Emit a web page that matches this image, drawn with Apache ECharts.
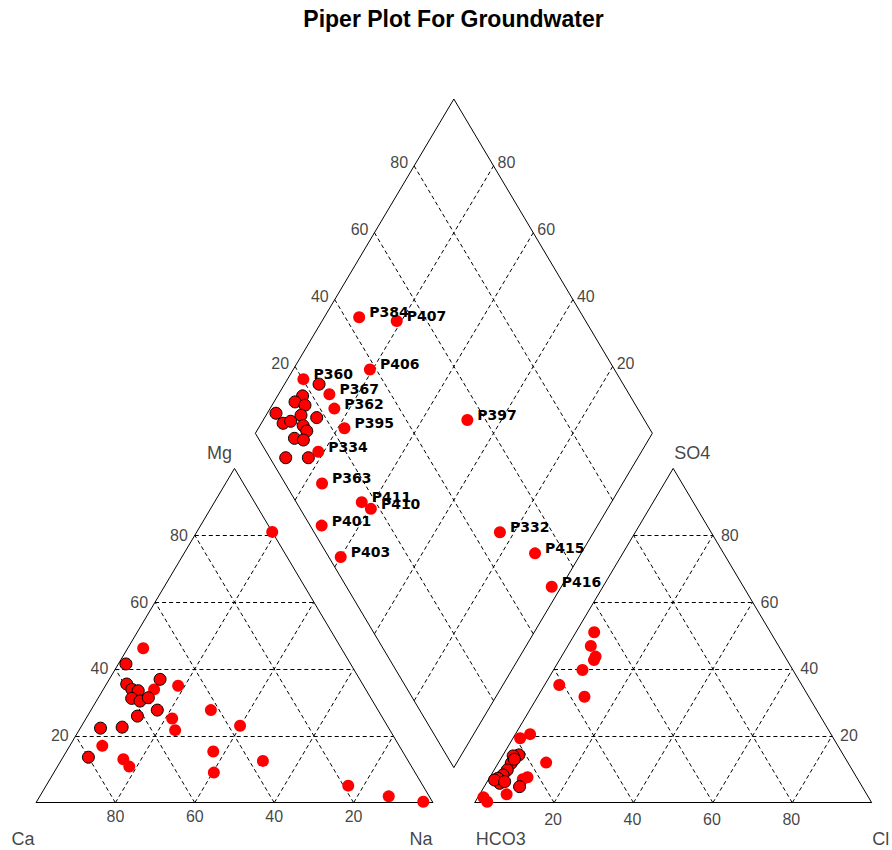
<!DOCTYPE html>
<html><head><meta charset="utf-8">
<script src="https://cdn.jsdelivr.net/npm/echarts@6/dist/echarts.min.js"></script>
<style>html,body{margin:0;padding:0;background:#fff}#c{width:892px;height:850px}</style>
</head><body><div id="c"></div>
<script>
// ---------------- DATA ----------------
const chartTitle = 'Piper Plot For Groundwater';
const cationCorners = ['Ca', 'Mg', 'Na'];
const anionCorners = ['HCO3', 'SO4', 'Cl'];
const tickValues = [20, 40, 60, 80];

// cation triangle samples: [Mg %, Na %]  (Ca = 100 - Mg - Na)
const cationOutlined = [
  [41.5,1.9],[35.5,5.1],[33.9,7.2],[33.5,9.0],[31.2,8.5],[30.4,11.0],[31.4,12.6],
  [36.9,12.8],[27.7,16.7],[25.9,12.6],[22.3,5.1],[22.6,10.4],[13.6,6.4]
];
const cationPlain = [
  [46.2,3.9],[33.9,12.8],[35.0,18.3],[27.7,30.2],[25.2,21.7],[21.7,24.2],[23.0,39.9],
  [17.0,8.2],[13.0,15.5],[10.8,18.1],[15.3,37.0],[9.0,40.3],[12.5,50.9],[5.1,76.1],
  [1.9,87.9],[0.3,97.4],[81.0,19.0]
];

// anion triangle samples: [SO4 %, Cl %]  (HCO3 = 100 - SO4 - Cl)
const anionOutlined = [
  [14.3,4.0],[14.0,2.7],[11.8,3.3],[9.8,3.3],[8.3,3.0],[7.3,2.2],[5.8,3.4],
  [6.8,1.6],[6.3,4.4],[4.8,8.9],[13.0,3.5]
];
const anionPlain = [
  [51.0,4.6],[46.9,5.8],[43.7,8.6],[42.7,8.7],[39.7,7.3],[35.2,3.7],[31.7,11.8],
  [20.5,3.7],[19.3,1.8],[12.0,12.0],[7.6,9.5],[7.0,8.6],[2.5,6.8],[1.6,1.4],[0.3,3.0]
];

// diamond samples: [Na %, HCO3 %]
const diamondNames = ['P384','P407','P406','P360','P367','P362','P395','P397','P334',
  'P363','P411','P410','P401','P403','P332','P415','P416'];
const diamondPlain = [
  [8.8,56.5],[18.8,47.6],[19.3,61.6],[4.0,79.8],[12.8,75.5],[16.2,76.4],[21.7,76.8],
  [51.4,44.6],[18.6,86.9],[24.3,90.7],[37.1,83.5],[40.4,82.2],[30.5,97.1],[40.0,97.0],
  [76.4,53.2],[88.4,47.5],[97.6,48.3]
];
const diamondOutlined = [
  [8.7,76.6],[6.3,82.5],[5.3,85.3],[8.3,83.3],[2.2,91.8],[8.8,85.8],[13.1,82.2],
  [5.5,91.5],[7.1,89.3],[10.9,86.8],[12.6,86.7],[10.6,90.9],[13.1,88.9],[11.3,96.0],[17.0,90.3]
];

// ---------------- GEOMETRY (ternary -> cartesian data coords) ----------------
const GAP = 10.5;
const S3 = Math.sqrt(3) / 2;
function cat(mg, na) { return [na + mg / 2, mg * S3]; }
function an(so4, cl) { return [100 + GAP + cl + so4 / 2, so4 * S3]; }
function dia(na, hco3) { const t = 200 + GAP - hco3 - na; return [na + t / 2, t * S3]; }

const gridSegs = [];
const outlineSegs = [];
tickValues.forEach(v => {
  gridSegs.push({coords: [cat(v, 0), cat(v, 100 - v)]});
  gridSegs.push({coords: [cat(0, v), cat(100 - v, v)]});
  gridSegs.push({coords: [cat(0, 100 - v), cat(100 - v, 0)]});
  gridSegs.push({coords: [an(v, 0), an(v, 100 - v)]});
  gridSegs.push({coords: [an(0, v), an(100 - v, v)]});
  gridSegs.push({coords: [an(0, 100 - v), an(100 - v, 0)]});
  gridSegs.push({coords: [dia(v, 100), dia(v, 0)]});
  gridSegs.push({coords: [dia(100, v), dia(0, v)]});
});
[[cat(0,0),cat(0,100)],[cat(0,100),cat(100,0)],[cat(100,0),cat(0,0)],
 [an(0,0),an(0,100)],[an(0,100),an(100,0)],[an(100,0),an(0,0)],
 [dia(0,100),dia(100,100)],[dia(100,100),dia(100,0)],[dia(100,0),dia(0,0)],[dia(0,0),dia(0,100)]
].forEach(c => outlineSegs.push({coords: c}));

const tickFont = {fontFamily: 'Liberation Sans', fontSize: 16, color: '#111'};
const tickItems = [];
tickValues.forEach(v => {
  tickItems.push({value: cat(0, 100 - v), label: {formatter: String(v), align: 'center', offset: [0, 14]}});
  tickItems.push({value: cat(v, 0), label: {formatter: String(v), align: 'right', offset: [-7, 0]}});
  tickItems.push({value: an(0, v), label: {formatter: String(v), align: 'center', offset: [-1, 17]}});
  tickItems.push({value: an(v, 100 - v), label: {formatter: String(v), align: 'left', offset: [8, 0]}});
  tickItems.push({value: dia(0, 100 - v), label: {formatter: String(v), align: 'right', offset: [-6, -3]}});
  tickItems.push({value: dia(100 - v, 0), label: {formatter: String(v), align: 'left', offset: [4, -3]}});
});
const cornerItems = [
  {value: cat(0, 0), label: {formatter: cationCorners[0], offset: [-13, 36]}},
  {value: cat(100, 0), label: {formatter: cationCorners[1], offset: [-15, -15]}},
  {value: cat(0, 100), label: {formatter: cationCorners[2], offset: [-12, 36]}},
  {value: an(0, 0), label: {formatter: anionCorners[0], offset: [26, 36]}},
  {value: an(100, 0), label: {formatter: anionCorners[1], offset: [19, -15]}},
  {value: an(0, 100), label: {formatter: anionCorners[2], offset: [9, 36]}}
];

const RED = '#ff0000';
function pts(arr, f) { return arr.map(p => f(p[0], p[1])); }
const plainStyle = {color: RED, opacity: 1};
const outlinedStyle = {color: RED, borderColor: '#000', borderWidth: 1, opacity: 1};

const diamondPlainItems = diamondPlain.map((p, i) => ({value: dia(p[0], p[1]), name: diamondNames[i]}));

const option = {
  animation: false,
  backgroundColor: '#fff',
  grid: {left: 36, right: 20.3, top: 30.7, bottom: 47.3},
  xAxis: {type: 'value', min: 0, max: 210.5, show: false},
  yAxis: {type: 'value', min: 0, max: 200, show: false},
  graphic: [{
    type: 'text', x: 453.5, y: 19,
    style: {text: chartTitle, align: 'center', verticalAlign: 'middle',
      fontFamily: 'Liberation Sans', fontWeight: 'bold', fontSize: 23, fill: '#000'}
  }],
  series: [
    {type: 'lines', coordinateSystem: 'cartesian2d', silent: true, z: 1,
      lineStyle: {color: '#000', width: 1, type: [4, 3], opacity: 1}, data: gridSegs},
    {type: 'lines', coordinateSystem: 'cartesian2d', silent: true, z: 2,
      lineStyle: {color: '#000', width: 1, type: 'solid', opacity: 1}, data: outlineSegs},
    {type: 'scatter', symbolSize: 0, silent: true, z: 3, clip: false,
      label: Object.assign({show: true, position: 'inside', verticalAlign: 'middle'}, tickFont),
      data: tickItems},
    {type: 'scatter', symbolSize: 0, silent: true, z: 3, clip: false,
      label: {show: true, position: 'inside', align: 'center', verticalAlign: 'middle',
        fontFamily: 'Liberation Sans', fontSize: 18, color: '#111'},
      data: cornerItems},
    {type: 'scatter', symbol: 'circle', symbolSize: 12, z: 5, clip: false, itemStyle: plainStyle,
      data: pts(cationPlain, cat)},
    {type: 'scatter', symbol: 'circle', symbolSize: 12, z: 5, clip: false, itemStyle: plainStyle,
      data: pts(anionPlain, an)},
    {type: 'scatter', symbol: 'circle', symbolSize: 12, z: 6, clip: false, itemStyle: outlinedStyle,
      data: pts(cationOutlined, cat)},
    {type: 'scatter', symbol: 'circle', symbolSize: 12, z: 6, clip: false, itemStyle: outlinedStyle,
      data: pts(anionOutlined, an)},
    {type: 'scatter', symbol: 'circle', symbolSize: 12, z: 6, clip: false, itemStyle: outlinedStyle,
      data: pts(diamondOutlined, dia)},
    {type: 'scatter', symbol: 'circle', symbolSize: 12, z: 7, clip: false, itemStyle: plainStyle,
      label: {show: true, position: 'right', distance: 4, offset: [0, -5], formatter: '{b}',
        fontFamily: 'DejaVu Sans', fontWeight: 'bold', fontSize: 14, color: '#000', opacity: 1},
      data: diamondPlainItems}
  ]
};
const chart = echarts.init(document.getElementById('c'), null, {renderer: 'svg'});
chart.setOption(option);
</script></body></html>
